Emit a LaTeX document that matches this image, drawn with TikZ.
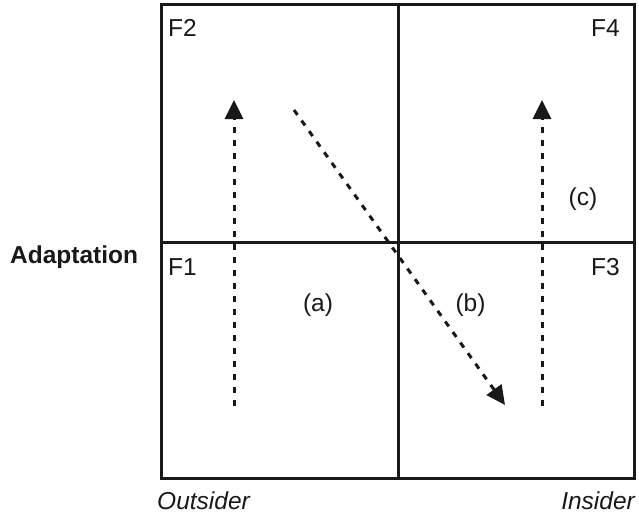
\documentclass[tikz,border=0pt]{standalone}
\usepackage{fontspec}
\setmainfont{Liberation Sans}
\usetikzlibrary{arrows.meta}
\begin{document}
\begin{tikzpicture}[x=1pt,y=-1pt,
  frame/.style={line width=3pt, draw=black!90},
  lbl/.style={inner sep=0pt, font=\fontsize{24.5}{28}\selectfont, text=black!90},
  darrow/.style={line width=3pt, draw=black!90, dash pattern=on 6pt off 7pt,
    -{Triangle[length=19pt 0 0,width=18pt 0 0]}}]
\useasboundingbox (0,0) rectangle (639,519);
% frame
\coordinate (tl) at (161,5);
\coordinate (br) at (634,478);
\draw[frame] (tl) rectangle (br);
\coordinate (vt) at (398,5);
\coordinate (vb) at (398,478);
\coordinate (hl) at (161,242);
\coordinate (hr) at (634,242);
\draw[frame] (vt) -- (vb);
\draw[frame] (hl) -- (hr);
% labels
\node[lbl, anchor=base west] (f2) at (168,37) {F2};
\node[lbl, anchor=base east] (f4) at (620,37) {F4};
\node[lbl, anchor=base west] (f1) at (168,275) {F1};
\node[lbl, anchor=base east] (f3) at (620,275) {F3};
\node[lbl, anchor=base] (a) at (318,311) {(a)};
\node[lbl, anchor=base] (b) at (470.5,311) {(b)};
\node[lbl, anchor=base] (c) at (583,205) {(c)};
\node[lbl, anchor=base west, font=\fontsize{24.5}{28}\selectfont\bfseries] (adapt) at (10,263) {Adaptation};
\node[lbl, anchor=base west, font=\fontsize{24.5}{28}\selectfont\itshape] (out) at (157,509) {Outsider};
\node[lbl, anchor=base east, font=\fontsize{24.5}{28}\selectfont\itshape] (ins) at (635,509) {Insider};
% arrows
\coordinate (a1) at (234,406);
\coordinate (a2) at (234,100);
\coordinate (c1) at (542,406);
\coordinate (c2) at (542,100);
\coordinate (b1) at (294,110);
\coordinate (b2) at (505,405);
\draw[darrow] (a1) -- (a2);
\draw[darrow] (c1) -- (c2);
\draw[darrow] (b1) -- (b2);
\end{tikzpicture}
\end{document}
